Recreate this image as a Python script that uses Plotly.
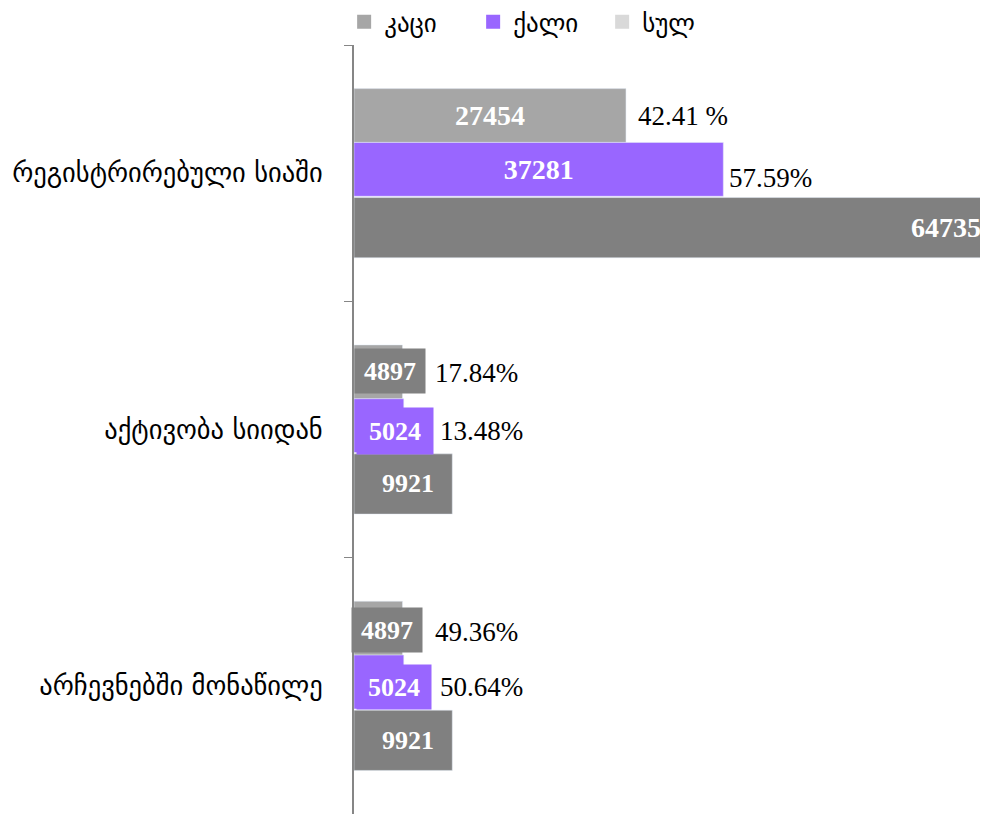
import plotly.graph_objects as go

categories = ["რეგისტრირებული სიაში", "აქტივობა სიიდან", "არჩევნებში მონაწილე"]
series_names = ["კაცი", "ქალი", "სულ"]
men = [27454, 4897, 4897]
women = [37281, 5024, 5024]
total = [64735, 9921, 9921]
men_pct = ["42.41 %", "17.84%", "49.36%"]
women_pct = ["57.59%", "13.48%", "50.64%"]

X_MAX = 64000

C_MEN = "#a6a6a6"
C_WOMEN = "#9966ff"
C_TOTAL = "#808080"
C_TOTAL_LEG = "#d9d9d9"
NUM_FONT = "Liberation Serif"
GEO_FONT = "DejaVu Sans"

fig = go.Figure()

big_font = dict(family=NUM_FONT, size=28, color="white", weight="bold")
num_font = dict(family=NUM_FONT, size=26, color="white", weight="bold")
pct_font = dict(family=NUM_FONT, size=27, color="black")

fig.add_trace(go.Bar(
    y=categories, x=men, orientation="h", marker_color=C_MEN, showlegend=False,
    offset=-0.33, width=0.21,
    text=[str(men[0]), "", ""], textposition="inside", insidetextanchor="middle",
    textfont=big_font, hoverinfo="x+name", name=series_names[0]))
fig.add_trace(go.Bar(
    y=categories, x=women, orientation="h", marker_color=C_WOMEN, showlegend=False,
    offset=-0.12, width=0.21,
    text=[str(women[0]), "", ""], textposition="inside", insidetextanchor="middle",
    textfont=big_font, hoverinfo="x+name", name=series_names[1]))
fig.add_trace(go.Bar(
    y=categories, x=total, orientation="h", marker_color=C_TOTAL, showlegend=False,
    offset=0.095, width=0.235, hoverinfo="x+name", name=series_names[2]))

# legend entries (square swatches)
for nm, col in zip(series_names, [C_MEN, C_WOMEN, C_TOTAL_LEG]):
    fig.add_trace(go.Scatter(y=[None], x=[None], mode="markers", name=nm,
                             marker=dict(color=col, symbol="square", size=14),
                             showlegend=True))

ann = []
ann.append(dict(x=men[0], y=0 - 0.225, xref="x", yref="y", text=men_pct[0],
                xanchor="left", yanchor="middle", xshift=10, showarrow=False, font=pct_font))
ann.append(dict(x=women[0], y=0 + 0.02, xref="x", yref="y", text=women_pct[0],
                xanchor="left", yanchor="middle", xshift=4, showarrow=False, font=pct_font))

for i in (1, 2):
    mshift = 0 if i == 1 else -3
    ann.append(dict(x=0, y=i - 0.228 + (0.01 if i == 2 else 0), xref="x", yref="y", text=str(men[i]),
                    xanchor="left", yanchor="middle", xshift=mshift, showarrow=False,
                    width=70, height=44, bgcolor=C_TOTAL, borderpad=0, align="center", font=num_font))
    ann.append(dict(x=0, y=i + 0.004, xref="x", yref="y", text=str(women[i]),
                    xanchor="left", yanchor="middle", xshift=2, showarrow=False,
                    width=76 if i == 1 else 74, height=46 if i == 1 else 44,
                    bgcolor=C_WOMEN, borderpad=0, align="center", font=num_font))
    ann.append(dict(x=0, y=i - 0.22 + (0.01 if i == 2 else 0), xref="x", yref="y", text=men_pct[i],
                    xanchor="left", yanchor="middle", xshift=79, showarrow=False, font=pct_font))
    ann.append(dict(x=0, y=i + 0.004, xref="x", yref="y", text=women_pct[i],
                    xanchor="left", yanchor="middle", xshift=84, showarrow=False, font=pct_font))

for i in range(3):
    clipped = total[i] > X_MAX
    ann.append(dict(x=min(total[i], X_MAX), y=i + 0.212, xref="x", yref="y", text=str(total[i]),
                    xanchor="right", yanchor="middle", xshift=-5 if clipped else -16,
                    showarrow=False, font=big_font if i == 0 else num_font))

fig.update_layout(
    width=980, height=806,
    barmode="overlay",
    paper_bgcolor="white", plot_bgcolor="white",
    margin=dict(l=346, r=0, t=34, b=0),
    annotations=ann,
    showlegend=True,
    legend=dict(orientation="h", xref="container", yref="container",
                x=0.343, y=0.9826, xanchor="left", yanchor="middle",
                font=dict(family=GEO_FONT, size=25, color="black"),
                entrywidth=84, entrywidthmode="pixels",
                traceorder="normal", bgcolor="rgba(0,0,0,0)"),
    xaxis=dict(range=[0, X_MAX], visible=False, showgrid=False, zeroline=False, fixedrange=True),
    yaxis=dict(type="category", autorange="reversed", categoryorder="array",
               categoryarray=categories,
               showline=True, linecolor="#868686", linewidth=2,
               ticks="outside", ticklen=8, tickcolor="#868686", tickwidth=1,
               tickson="boundaries", ticklabelstandoff=24, automargin=False,
               showgrid=False, zeroline=False,
               tickfont=dict(family=GEO_FONT, size=26.5, color="black")),
)

fig.write_html("out.html")
